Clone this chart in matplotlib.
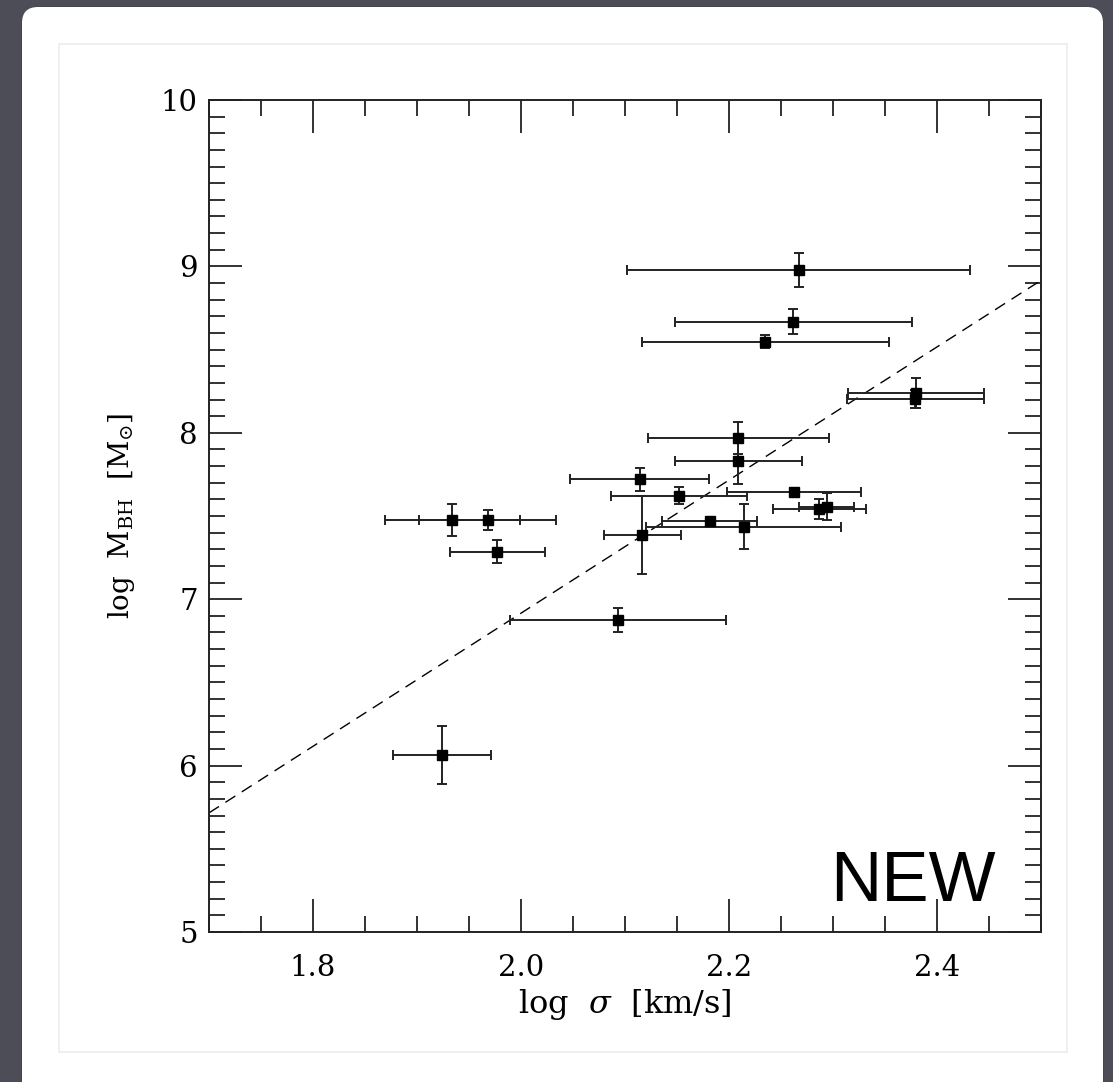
import matplotlib
matplotlib.use("Agg")
import matplotlib.pyplot as plt
from matplotlib.patches import FancyBboxPatch, Rectangle
from matplotlib.ticker import MultipleLocator, FormatStrFormatter
import numpy as np

# ---- data ----
log_sigma = [2.267, 2.262, 2.235, 2.380, 2.379, 2.209, 2.209, 2.114, 2.152, 2.2625,
             2.1815, 2.214, 2.1166, 2.287, 2.294, 1.934, 1.968, 1.977, 2.093, 1.924]
log_mbh = [8.978, 8.668, 8.547, 8.241, 8.203, 7.967, 7.830, 7.720, 7.622, 7.644,
           7.472, 7.436, 7.388, 7.544, 7.556, 7.476, 7.476, 7.285, 6.875, 6.064]
sigma_err = [0.165, 0.114, 0.119, 0.0655, 0.066, 0.087, 0.061, 0.067, 0.065, 0.0645,
             0.0455, 0.094, 0.037, 0.045, 0.0265, 0.065, 0.066, 0.0457, 0.104, 0.047]
mbh_err = [0.102, 0.076, 0.04, 0.09, 0.055, 0.097, 0.138, 0.07, 0.05, 0.015,
           0.015, 0.136, 0.235, 0.06, 0.08, 0.096, 0.06, 0.07, 0.072, 0.174]

# M-sigma relation (dashed line)
fit_slope = 4.0
fit_intercept = 8.12
fit_pivot = 2.301

x_ticks = [1.8, 2.0, 2.2, 2.4]
y_ticks = [5, 6, 7, 8, 9, 10]
x_label = r"log  $\sigma$  [km/s]"
y_label = r"log  M$_{\rm BH}$  [M$_{\odot}$]"
tag = "NEW"

plt.rcParams["mathtext.fontset"] = "dejavuserif"
plt.rcParams["font.family"] = ["DejaVu Serif"]

W, H, DPI = 1113, 1082, 100
fig = plt.figure(figsize=(W / DPI, H / DPI), dpi=DPI)

# ---- slide-like background ----
bg = fig.add_axes([0, 0, 1, 1], zorder=-10)
bg.set_xlim(0, W)
bg.set_ylim(H, 0)
bg.axis("off")
bg.add_patch(Rectangle((0, 0), W, H, facecolor="#4d4d57", edgecolor="none"))
for i, a in enumerate([0.10, 0.08, 0.06, 0.04]):
    bg.add_patch(FancyBboxPatch((22 + 2 + i, 7 + 2 + i), 1081 - 4 - 2 * i, 1120,
                                boxstyle="round,pad=0,rounding_size=16",
                                facecolor="none", edgecolor=(0, 0, 0, a), lw=4))
bg.add_patch(FancyBboxPatch((22, 7), 1081, 1120, boxstyle="round,pad=0,rounding_size=16",
                            facecolor="white", edgecolor="none"))
bg.add_patch(Rectangle((59, 44), 1008, 1008, facecolor="white", edgecolor="#ececec", lw=1.2))

# ---- main axes ----
ax = fig.add_axes([209 / W, 1 - 932 / H, 832 / W, 832 / H])
ax.set_xlim(1.7, 2.5)
ax.set_ylim(5, 10)

xx = np.array([1.7, 2.5])
ax.plot(xx, fit_intercept + fit_slope * (xx - fit_pivot), color="black", lw=1.0,
        dashes=(8.5, 5.5))

ax.errorbar(log_sigma, log_mbh, xerr=sigma_err, yerr=mbh_err, fmt="s", color="black",
            ms=6.5, ecolor="#222222", elinewidth=1.4, capsize=3.3, capthick=1.4)

ax.xaxis.set_major_locator(plt.FixedLocator(x_ticks))
ax.xaxis.set_minor_locator(MultipleLocator(0.05))
ax.yaxis.set_major_locator(plt.FixedLocator(y_ticks))
ax.yaxis.set_minor_locator(MultipleLocator(0.1))
ax.xaxis.set_major_formatter(FormatStrFormatter("%.1f"))
ax.yaxis.set_major_formatter(FormatStrFormatter("%d"))

ax.tick_params(which="both", direction="in", top=True, right=True, colors="#222222",
               width=1.3, labelsize=21, labelcolor="black")
ax.tick_params(which="major", length=23.5)
ax.tick_params(which="minor", length=11.5)
ax.tick_params(axis="x", pad=16)
ax.tick_params(axis="y", pad=8)
for s in ax.spines.values():
    s.set_linewidth(1.4)
    s.set_color("#222222")

ax.set_xlabel(x_label, fontsize=23)
ax.set_ylabel(y_label, fontsize=20)
ax.xaxis.set_label_coords(0.5, -0.066)
ax.yaxis.set_label_coords(-0.086, 0.5)

ax.text(0.945, 0.037, tag, transform=ax.transAxes, ha="right", va="baseline",
        fontsize=51, family=["Liberation Sans", "DejaVu Sans"], color="black")

fig.savefig("out.png", dpi=DPI)
